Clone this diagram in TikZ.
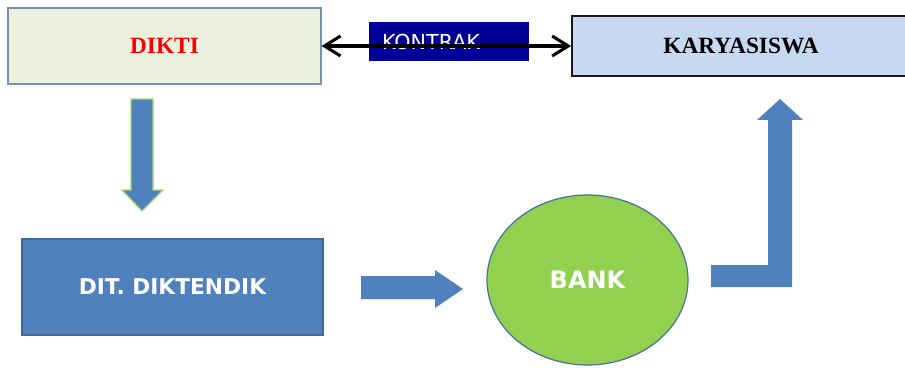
\documentclass[tikz,border=0pt]{standalone}
\usepackage{fontspec}
\setmainfont{Liberation Serif}
\newfontfamily\labelfont{DejaVu Sans}
\usetikzlibrary{positioning,shapes.geometric,arrows.meta}

\definecolor{diktifill}{HTML}{EBF1DE}
\definecolor{diktiline}{HTML}{7090B8}
\definecolor{kontrakblue}{HTML}{000099}
\definecolor{karyafill}{HTML}{C6D9F1}
\definecolor{blockblue}{HTML}{4F81BD}
\definecolor{blockline}{HTML}{41699C}
\definecolor{bankgreen}{HTML}{92D050}
\definecolor{bankline}{HTML}{4A6E9E}
\definecolor{arrowgreen}{HTML}{A5D86A}

\begin{document}
\begin{tikzpicture}[x=0.75pt,y=-0.75pt,
    box/.style={rectangle,inner sep=0pt},
    serifbig/.style={font=\bfseries\fontsize{17.5}{20}\selectfont},
    sansbig/.style={font=\labelfont\bfseries\fontsize{16.3}{19}\selectfont},
    blockarrow/.style={fill=blockblue},
    barb/.style={Straight Barb[length=12pt,width=15pt]}]
        \clip (0,0) rectangle (905,367);
        \node[box, draw=diktiline, fill=diktifill, line width=0.9pt,
              minimum width=313*0.75pt, minimum height=76*0.75pt,
              text=red, serifbig] (dikti) at (164.5,46) {DIKTI};
        \node[box, draw=black!90, fill=karyafill, line width=1.4pt,
              minimum width=338*0.75pt, minimum height=60*0.75pt,
              serifbig] (karya) at (741,46) {KARYASISWA};
        \node[box, fill=kontrakblue, minimum width=160*0.75pt,
              minimum height=39*0.75pt, text width=134*0.75pt, align=left,
              text=white, font=\labelfont\fontsize{15.5}{18}\selectfont]
              (kontrak) at (449,41.5) {KONTRAK};
        \draw[line width=2.3pt, {Straight Barb[length=12pt,width=15pt]}-{Straight Barb[length=12pt,width=15pt]}]
             (dikti.east) -- (karya.west);
        \node[box, draw=blockline, fill=blockblue, line width=0.8pt,
              minimum width=301*0.75pt, minimum height=96*0.75pt,
              text=white, sansbig] (ditk) at (172.5,287) {DIT. DIKTENDIK};
        \node[ellipse, draw=bankline, fill=bankgreen, line width=0.9pt, inner sep=0pt,
              minimum width=201*0.75pt, minimum height=170*0.75pt,
              text=white, font=\labelfont\bfseries\fontsize{18}{21}\selectfont]
              (bank) at (587.5,280) {BANK};
        \filldraw[blockarrow, draw=arrowgreen, line width=1pt]
             (131,99) -- (153,99) -- (153,190) -- (163,190) -- (142,211)
             -- (122,190) -- (131,190) -- cycle;
        \fill[blockarrow] (361,276) -- (435,276) -- (435,270) -- (463,289)
             -- (435,308) -- (435,299) -- (361,299) -- cycle;
        \fill[blockarrow] (711,265) -- (768,265) -- (768,120) -- (757,120)
             -- (780,99) -- (803,120) -- (792,120) -- (792,287) -- (711,287) -- cycle;
    \end{tikzpicture}
\end{document}
